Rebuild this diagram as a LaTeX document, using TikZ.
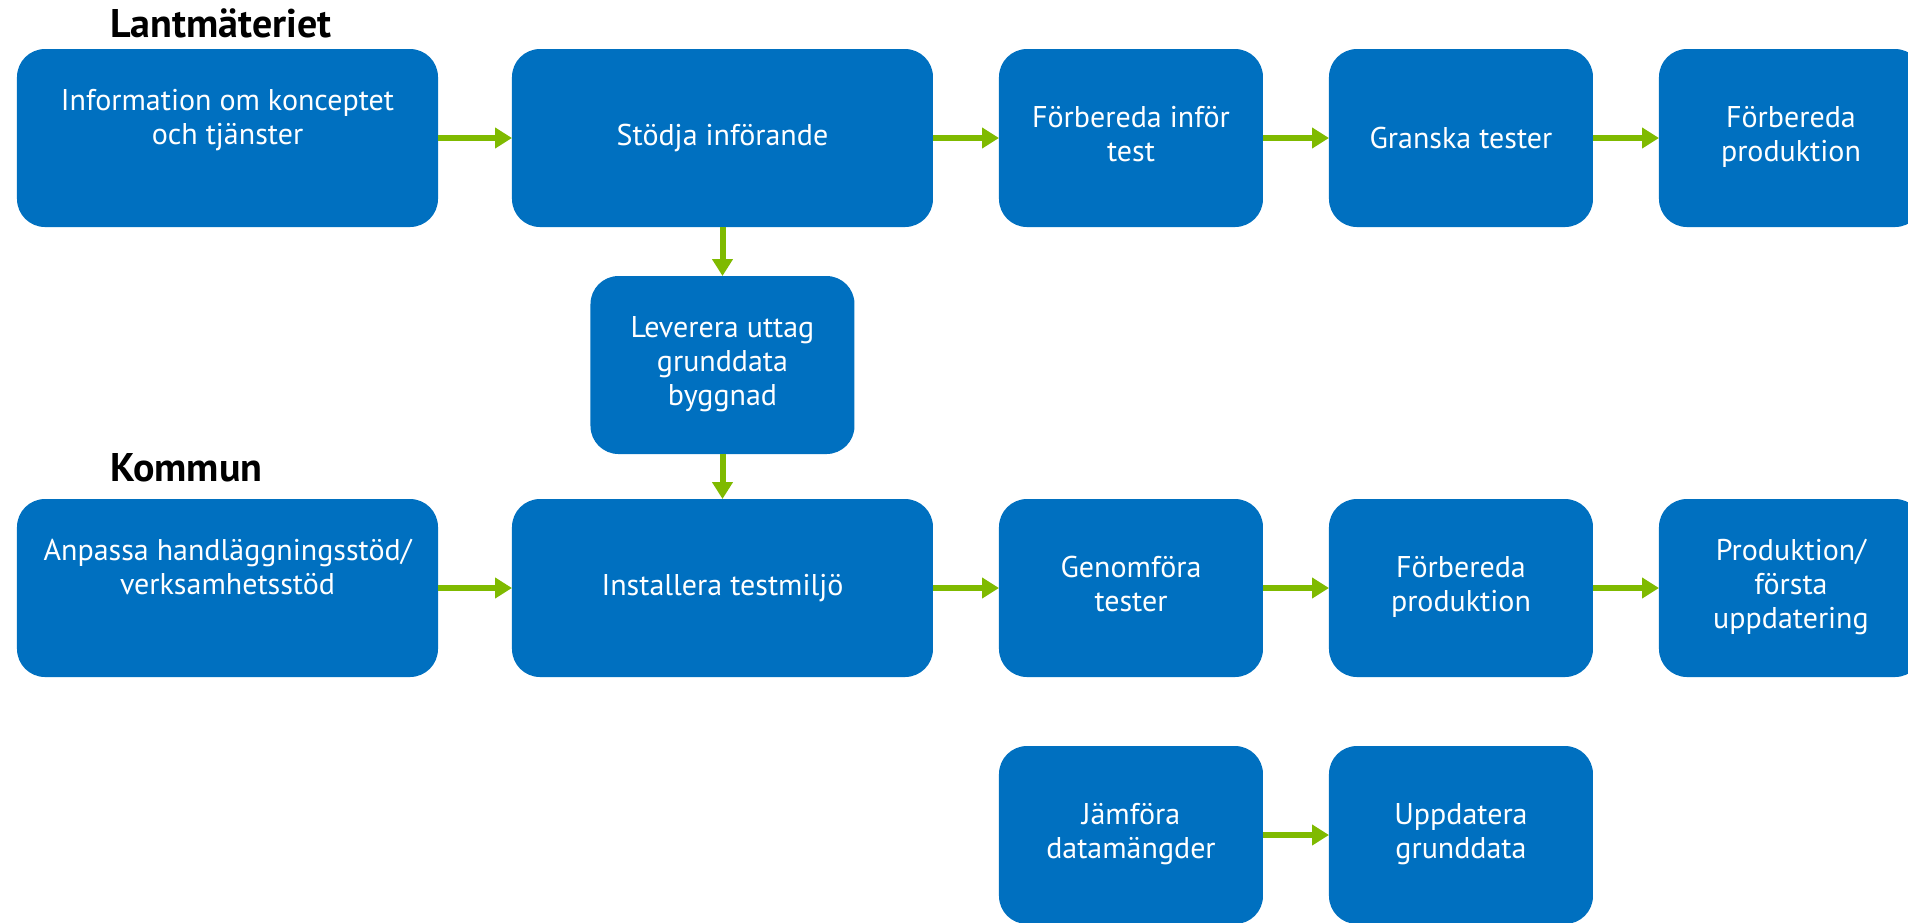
\documentclass[tikz,border=0pt]{standalone}
\usepackage{fontspec}
\setmainfont{PT Sans}
\usetikzlibrary{matrix,arrows.meta}

\definecolor{lmblue}{HTML}{0070C0}
\definecolor{lmgreen}{HTML}{7FBA00}
\newcommand{\lines}[1]{\begin{tabular}{@{}c@{}}#1\end{tabular}}

\begin{document}
\begin{tikzpicture}[
	box/.style={fill=lmblue, rounded corners=14pt, text=white, anchor=center,
		minimum width=132pt, minimum height=89pt, inner sep=2pt, outer sep=0pt, font=\fontsize{15}{17}\selectfont},
	wide/.style={minimum width=210.5pt},
	lane/.style={font=\fontsize{20}{23}\selectfont\bfseries, inner sep=0pt, anchor=base west},
	flow/.style={draw=lmgreen, line width=3pt, -{Triangle[length=8.5pt,width=10pt]}}]
	\useasboundingbox (0,0) rectangle (954pt,-461pt);
	\clip (0,0) rectangle (954pt,-461pt);

	\matrix(steps)[matrix of nodes, nodes={box}, inner sep=0pt, outer sep=0pt,
	row sep=22.5pt, column sep=33pt, matrix anchor=north west] at (8.5pt,-24.5pt)
	{
		|[wide]| \lines{Information om konceptet\\och tjänster\\\mbox{}} &[4pt] |[wide]| Stödja införande & \lines{Förbereda inför\\test} & Granska tester & \lines{Förbereda\\produktion} \\[2pt]
		& \lines{Leverera uttag\\grunddata\\byggnad} & & & \\
		|[wide]| \lines{Anpassa handläggningsstöd/\\verksamhetsstöd\\\mbox{}} & |[wide]| Installera testmiljö & \lines{Genomföra\\tester} & \lines{Förbereda\\produktion} & \lines{Produktion/\\första\\uppdatering} \\[12pt]
		& & \lines{Jämföra\\datamängder} & \lines{Uppdatera\\grunddata} & \\
	};

	% rubriker
	\node[lane] (lm) at ([xshift=46.5pt,yshift=6pt]steps-1-1.north west) {Lantmäteriet};
	\node[lane] (kommun) at ([xshift=46.5pt,yshift=9pt]steps-3-1.north west) {Kommun};

	% pilar
	\draw[flow] (steps-1-1) -- (steps-1-2);
	\draw[flow] (steps-1-2) -- (steps-1-3);
	\draw[flow] (steps-1-3) -- (steps-1-4);
	\draw[flow] (steps-1-4) -- (steps-1-5);
	\draw[flow] (steps-1-2) -- (steps-2-2);
	\draw[flow] (steps-2-2) -- (steps-3-2);
	\draw[flow] (steps-3-1) -- (steps-3-2);
	\draw[flow] (steps-3-2) -- (steps-3-3);
	\draw[flow] (steps-3-3) -- (steps-3-4);
	\draw[flow] (steps-3-4) -- (steps-3-5);
	\draw[flow] (steps-4-3) -- (steps-4-4);
\end{tikzpicture}
\end{document}
